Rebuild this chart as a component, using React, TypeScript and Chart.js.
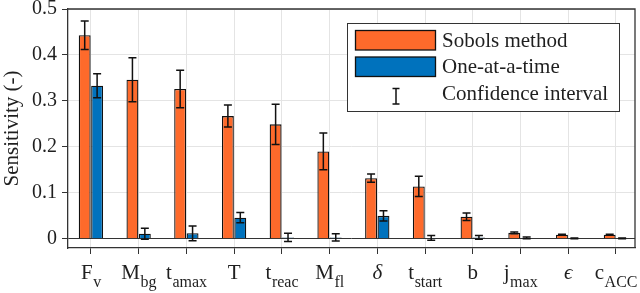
import React, { useEffect, useRef } from "react";
import { Chart, registerables } from "chart.js";

Chart.register(...registerables);

// ---- data ----
const categoryBase = ["F", "M", "t", "T", "t", "M", "δ", "t", "b", "j", "ϵ", "c"];
const categorySub = ["v", "bg", "amax", "", "reac", "fl", "", "start", "", "max", "", "ACC"];
const categoryItalic = [false, false, false, false, false, false, true, false, false, false, true, false];
const sobolValues = [0.443, 0.346, 0.326, 0.267, 0.249, 0.19, 0.132, 0.114, 0.048, 0.013, 0.009, 0.009];
const sobolErrors = [0.031, 0.048, 0.041, 0.024, 0.044, 0.04, 0.009, 0.022, 0.008, 0.002, 0.001, 0.001];
const oatValues = [0.333, 0.011, 0.012, 0.046, 0.003, 0.003, 0.05, 0.002, 0.003, 0.002, 0.001, 0.001];
const oatErrors = [0.026, 0.012, 0.016, 0.011, 0.009, 0.008, 0.011, 0.005, 0.004, 0.002, 0.001, 0.001];
const yTicks = [0, 0.1, 0.2, 0.3, 0.4, 0.5];
const seriesNames = ["Sobols method", "One-at-a-time", "Confidence interval"];
const yTitle = "Sensitivity (-)";

const FONT = "'Liberation Serif', 'Times New Roman', serif";
const ORANGE = "#fe6a2b";
const BLUE = "#0072bd";
const AXIS = "#333333";
const GRID = "#e4e4e4";
const TEXT = "#1f1f1f";

const errorBarPlugin = {
  id: "errorBars",
  afterDatasetsDraw(chart: any) {
    const ctx = chart.ctx;
    const ys = chart.scales.y;
    chart.data.datasets.forEach((ds: any, di: number) => {
      const meta = chart.getDatasetMeta(di);
      meta.data.forEach((bar: any, i: number) => {
        const v = ds.values[i];
        const e = ds.errors[i];
        const x = bar.x;
        const yTop = ys.getPixelForValue(v + e);
        const yBot = ys.getPixelForValue(v - e);
        ctx.save();
        ctx.strokeStyle = "#111";
        ctx.lineWidth = 1.5;
        ctx.beginPath();
        ctx.moveTo(x, yTop);
        ctx.lineTo(x, yBot);
        ctx.moveTo(x - 4, yTop);
        ctx.lineTo(x + 4, yTop);
        ctx.moveTo(x - 4, yBot);
        ctx.lineTo(x + 4, yBot);
        ctx.stroke();
        ctx.restore();
      });
    });
  },
};

const decorPlugin = {
  id: "decor",
  afterDraw(chart: any) {
    const ctx = chart.ctx;
    const { top, right, left, bottom } = chart.chartArea;
    ctx.save();
    // frame top/right
    ctx.strokeStyle = AXIS;
    ctx.lineWidth = 1.3;
    ctx.beginPath();
    ctx.moveTo(left, top);
    ctx.lineTo(right, top);
    ctx.lineTo(right, bottom);
    ctx.stroke();

    // x labels with subscripts
    const xs = chart.scales.x;
    ctx.fillStyle = TEXT;
    ctx.textBaseline = "alphabetic";
    ctx.textAlign = "left";
    categoryBase.forEach((b, i) => {
      const cx = xs.getPixelForValue(i);
      const baseFont = `${categoryItalic[i] ? "italic " : ""}21px ${FONT}`;
      const subFont = `16px ${FONT}`;
      ctx.font = baseFont;
      const wb = ctx.measureText(b).width;
      ctx.font = subFont;
      const ws = categorySub[i] ? ctx.measureText(categorySub[i]).width : 0;
      const x0 = cx - (wb + ws) / 2;
      ctx.font = baseFont;
      ctx.fillText(b, x0, 279);
      if (categorySub[i]) {
        ctx.font = subFont;
        ctx.fillText(categorySub[i], x0 + wb + 0.5, 286.5);
      }
    });

    // legend
    const lx = 347.5, ly = 23.5, lw = 272, lh = 88;
    ctx.fillStyle = "#ffffff";
    ctx.fillRect(lx, ly, lw, lh);
    ctx.strokeStyle = AXIS;
    ctx.lineWidth = 1;
    ctx.strokeRect(lx, ly, lw, lh);
    const colors = [ORANGE, BLUE];
    for (let k = 0; k < 2; k++) {
      const py = 30.5 + k * 26.5;
      ctx.fillStyle = colors[k];
      ctx.fillRect(355.5, py, 80, 19.5);
      ctx.strokeStyle = "#111";
      ctx.lineWidth = 1.3;
      ctx.strokeRect(355.5, py, 80, 19.5);
    }
    ctx.strokeStyle = "#111";
    ctx.lineWidth = 1.5;
    ctx.beginPath();
    ctx.moveTo(396, 88.5);
    ctx.lineTo(396, 104);
    ctx.moveTo(392.5, 88.5);
    ctx.lineTo(399.5, 88.5);
    ctx.moveTo(392.5, 104);
    ctx.lineTo(399.5, 104);
    ctx.stroke();
    ctx.fillStyle = TEXT;
    ctx.font = `21px ${FONT}`;
    seriesNames.forEach((n, k) => {
      ctx.fillText(n, 442, 46.7 + k * 26.7);
    });
    ctx.restore();
  },
};

export default function App() {
  const ref = useRef<HTMLCanvasElement | null>(null);
  useEffect(() => {
    document.body.style.margin = "0";
    const canvas = ref.current;
    if (!canvas) return;
    const chart = new Chart(canvas, {
      type: "bar",
      data: {
        datasets: [
          {
            label: seriesNames[0],
            data: sobolValues.map((v, i) => ({ x: i, y: v })),
            backgroundColor: ORANGE,
            borderColor: "#111",
            borderWidth: 1.3,
            values: sobolValues,
            errors: sobolErrors,
          } as any,
          {
            label: seriesNames[1],
            data: oatValues.map((v, i) => ({ x: i, y: v })),
            backgroundColor: BLUE,
            borderColor: "#111",
            borderWidth: 1.3,
            values: oatValues,
            errors: oatErrors,
          } as any,
        ],
      },
      options: {
        animation: false,
        responsive: false,
        maintainAspectRatio: false,
        layout: { padding: { top: 9, right: 5, left: 0, bottom: 0 } },
        datasets: { bar: { categoryPercentage: 0.52, barPercentage: 0.96 } },
        plugins: { legend: { display: false }, tooltip: { enabled: false } },
        scales: {
          x: {
            type: "linear",
            min: -0.48,
            max: 11.4,
            offset: false,
            afterBuildTicks: (s: any) => {
              s.ticks = categoryBase.map((_, i) => ({ value: i }));
            },
            afterFit: (s: any) => {
              s.height = 45;
              s.paddingLeft = 0;
              s.paddingRight = 0;
            },
            ticks: { callback: () => "", font: { family: FONT, size: 20 } },
            grid: { color: GRID, lineWidth: 1, tickColor: AXIS, tickLength: 6, drawTicks: true, offset: false },
            border: { color: AXIS, width: 1.3 },
          },
          y: {
            min: -0.02,
            max: 0.5,
            afterBuildTicks: (s: any) => {
              s.ticks = yTicks.map((v) => ({ value: v }));
            },
            afterFit: (s: any) => {
              s.width = 68;
              s.paddingTop = 0;
              s.paddingBottom = 0;
            },
            ticks: {
              font: { family: FONT, size: 20 },
              color: TEXT,
              padding: 5,
              callback: (v: any) => String(v),
            },
            grid: {
              color: (c: any) => (c.tick && c.tick.value === 0 ? AXIS : GRID),
              lineWidth: 1,
              tickColor: AXIS,
              tickLength: 6,
            },
            border: { color: AXIS, width: 1.3 },
            title: {
              display: true,
              text: yTitle,
              font: { family: FONT, size: 21 },
              color: TEXT,
              padding: { top: 0, bottom: 0 },
            },
          },
        },
      } as any,
      plugins: [errorBarPlugin, decorPlugin],
    });
    return () => chart.destroy();
  }, []);
  return <canvas ref={ref} width={640} height={293} style={{ display: "block" }} />;
}
